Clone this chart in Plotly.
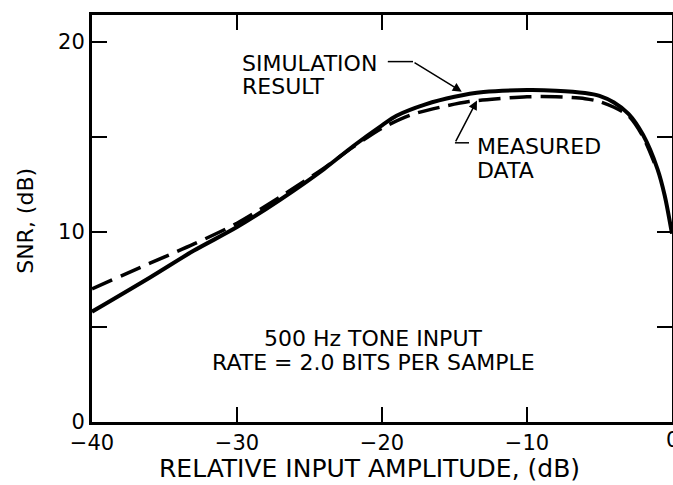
import plotly.graph_objects as go

# Simulation result (solid)
sim_x = [-40, -36, -33, -30, -27, -24, -22, -20, -19, -17, -15, -13, -10, -8, -6, -5, -4, -3, -2, -1, -0.5, 0]
sim_y = [5.8, 7.6, 9.0, 10.25, 11.7, 13.3, 14.5, 15.6, 16.1, 16.7, 17.1, 17.35, 17.45, 17.42, 17.3, 17.15, 16.8, 16.2, 15.1, 13.3, 11.9, 9.9]

# Measured data (dashed)
meas_x = [-40, -36, -33, -30, -27, -24, -22, -20, -18, -16, -14, -12, -10, -8, -6, -5, -4, -3, -2, -1]
meas_y = [7.0, 8.35, 9.35, 10.45, 11.85, 13.35, 14.45, 15.45, 16.15, 16.55, 16.85, 17.0, 17.1, 17.1, 17.0, 16.85, 16.55, 16.1, 15.0, 13.2]

x_ticks = [-40, -30, -20, -10, 0]
x_ticktext = ["−40", "−30", "−20", "−10", "0"]
y_ticks = [0, 5, 10, 15, 20]
y_ticktext = ["0", "", "10", "", "20"]

FONT = "DejaVu Sans"

fig = go.Figure()
fig.add_trace(go.Scatter(x=meas_x, y=meas_y, mode="lines", name="MEASURED DATA",
                         line=dict(color="black", width=3.5, dash="22px,9px", shape="spline", smoothing=0.8)))
fig.add_trace(go.Scatter(x=sim_x, y=sim_y, mode="lines", name="SIMULATION RESULT",
                         line=dict(color="black", width=4, shape="spline", smoothing=0.8)))

# leader line horizontal segments
fig.add_shape(type="line", x0=-19.6, y0=18.95, x1=-17.86, y1=18.95, line=dict(color="black", width=1.5))
fig.add_shape(type="line", x0=-14.97, y0=14.68, x1=-14.0, y1=14.68, line=dict(color="black", width=1.5))

ann = []
ann.append(dict(x=-14.5, y=17.37, ax=-17.86, ay=18.95, xref="x", yref="y", axref="x", ayref="y",
                text="", showarrow=True, arrowhead=2, arrowsize=1.2, arrowwidth=1.5, arrowcolor="black"))
ann.append(dict(x=-13.45, y=16.9, ax=-14.97, ay=14.68, xref="x", yref="y", axref="x", ayref="y",
                text="", showarrow=True, arrowhead=2, arrowsize=1.2, arrowwidth=1.5, arrowcolor="black"))
for txt, x, y in [("SIMULATION", -29.8, 18.84), ("RESULT", -29.8, 17.63),
                  ("MEASURED", -13.6, 14.5), ("DATA", -13.6, 13.2)]:
    ann.append(dict(x=x, y=y, xref="x", yref="y", text=txt, showarrow=False,
                    xanchor="left", yanchor="middle", font=dict(family=FONT, size=22, color="black")))
for txt, y in [("500 Hz TONE INPUT", 4.4), ("RATE = 2.0 BITS PER SAMPLE", 3.15)]:
    ann.append(dict(x=-20.6, y=y, xref="x", yref="y", text=txt, showarrow=False,
                    xanchor="center", yanchor="middle", font=dict(family=FONT, size=22, color="black")))
# axis titles
ann.append(dict(x=0.479, y=-0.114, xref="paper", yref="paper", text="RELATIVE INPUT AMPLITUDE, (dB)",
                showarrow=False, xanchor="center", yanchor="middle", font=dict(family=FONT, size=25, color="black")))
ann.append(dict(x=-0.114, y=0.494, xref="paper", yref="paper", text="SNR, (dB)", textangle=-90,
                showarrow=False, xanchor="center", yanchor="middle", font=dict(family=FONT, size=22, color="black")))
# right-edge "0" tick label (partly cut by the page edge, as in the reference)
ann.append(dict(x=1.0, y=-0.045, xref="paper", yref="paper", text="0", showarrow=False,
                xanchor="center", yanchor="middle", font=dict(family=FONT, size=21, color="black")))

fig.update_layout(
    width=673, height=485,
    margin=dict(l=92, r=1, t=15, b=63),
    paper_bgcolor="white", plot_bgcolor="white",
    showlegend=False,
    font=dict(family=FONT, size=20, color="black"),
    annotations=ann,
    xaxis=dict(range=[-40, 0], tickvals=x_ticks[:-1], ticktext=x_ticktext[:-1], automargin=False,
               ticks="inside", ticklen=15, tickwidth=2, tickcolor="black",
               showline=True, linewidth=3, linecolor="black", mirror="ticks",
               showgrid=False, zeroline=False,
               tickfont=dict(family=FONT, size=21)),
    yaxis=dict(range=[0, 21.4], tickvals=y_ticks, ticktext=y_ticktext, automargin=False,
               ticks="inside", ticklen=15, tickwidth=2, tickcolor="black",
               showline=True, linewidth=3, linecolor="black", mirror="ticks",
               showgrid=False, zeroline=False,
               tickfont=dict(family=FONT, size=21)),
)

fig.write_html("out.html", config={"displayModeBar": False},
               post_script="document.body.style.margin='0';document.body.style.overflow='hidden';")
